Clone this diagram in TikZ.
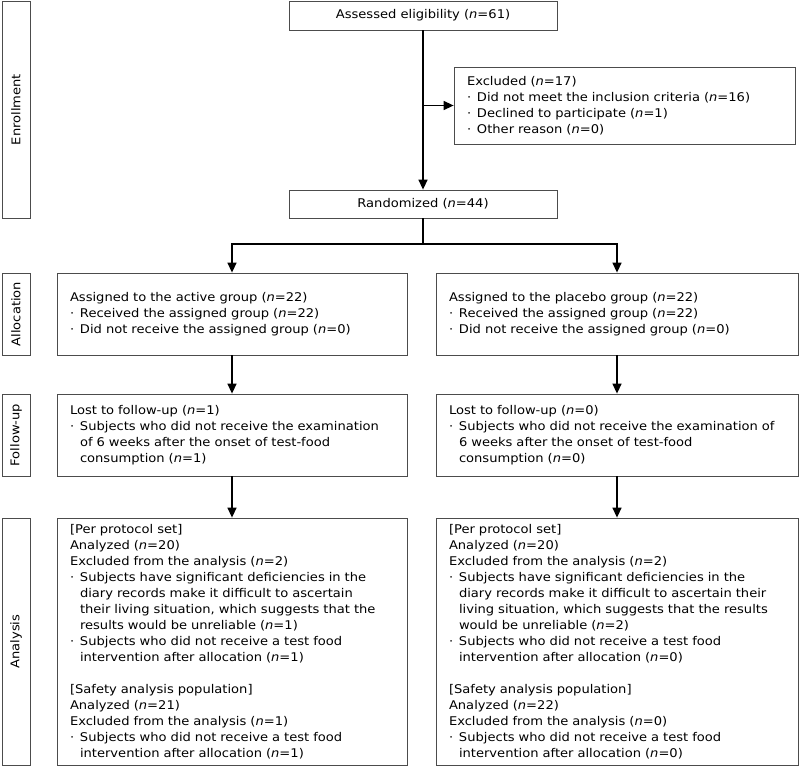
\documentclass[tikz,border=0pt]{standalone}
\usepackage{fontspec}
\setmainfont[FakeStretch=1.09]{DejaVu Sans}
\usepackage{tikz}
\usetikzlibrary{arrows.meta}

% bullet and continuation indent for the list lines
\newcommand{\bul}{\makebox[10pt][l]{\textperiodcentered}}
\newcommand{\cnt}{\hspace*{10pt}}
\newcommand{\nn}{\textit{n}}

\begin{document}
\begin{tikzpicture}[x=1pt, y=-1pt,
    box/.style={draw=black!70, rectangle, line width=0.8pt, inner xsep=13pt, inner ysep=0pt,
                align=left, font=\fontsize{12}{16}\selectfont},
    stage/.style={draw=black!70, rectangle, line width=0.8pt, inner sep=0pt, rotate=90,
                  font=\fontsize{12}{16}\selectfont},
    arr/.style={-{Triangle[length=10pt,width=9pt]}, line width=1.4pt}]
            \useasboundingbox (0,0) rectangle (800,773);

            % Stage labels (left column)
            \node[stage, minimum width=217pt, minimum height=28pt] (enrol) at (16, 109.5) {Enrollment};
            \node[stage, minimum width=82pt, minimum height=28pt] (alloc) at (16, 314) {Allocation};
            \node[stage, minimum width=82pt, minimum height=28pt] (follow) at (16, 435) {Follow-up};
            \node[stage, minimum width=247pt, minimum height=28pt] (analysis) at (16, 641.5) {Analysis};

            % Enrollment
            \node[box, align=center, minimum width=268pt, minimum height=29pt] (assess) at (423, 15.5) {Assessed eligibility (\nn=61)};
            \node[box, text width=315pt, minimum width=341pt, minimum height=77pt] (excl) at (624.5, 105.5)
                {Excluded (\nn=17)\\
                 \bul Did not meet the inclusion criteria (\nn=16)\\
                 \bul Declined to participate (\nn=1)\\
                 \bul Other reason (\nn=0)};
            \node[box, align=center, minimum width=268pt, minimum height=28pt] (rand) at (423, 204) {Randomized (\nn=44)};

            % Allocation
            \node[box, text width=324pt, minimum width=350pt, minimum height=82pt] (allocA) at (232, 314)
                {Assigned to the active group (\nn=22)\\
                 \bul Received the assigned group (\nn=22)\\
                 \bul Did not receive the assigned group (\nn=0)};
            \node[box, text width=336pt, minimum width=362pt, minimum height=82pt] (allocP) at (617, 314)
                {Assigned to the placebo group (\nn=22)\\
                 \bul Received the assigned group (\nn=22)\\
                 \bul Did not receive the assigned group (\nn=0)};

            % Follow-up
            \node[box, text width=324pt, minimum width=350pt, minimum height=82pt] (followA) at (232, 435)
                {Lost to follow-up (\nn=1)\\
                 \bul Subjects who did not receive the examination\\
                 \cnt of 6 weeks after the onset of test-food\\
                 \cnt consumption (\nn=1)};
            \node[box, text width=336pt, minimum width=362pt, minimum height=82pt] (followP) at (617, 435)
                {Lost to follow-up (\nn=0)\\
                 \bul Subjects who did not receive the examination of\\
                 \cnt 6 weeks after the onset of test-food\\
                 \cnt consumption (\nn=0)};

            % Analysis
            \node[box, text width=324pt, minimum width=350pt, minimum height=247pt] (anaA) at (232, 641.5)
                {[Per protocol set]\\
                 Analyzed (\nn=20)\\
                 Excluded from the analysis (\nn=2)\\
                 \bul Subjects have significant deficiencies in the\\
                 \cnt diary records make it difficult to ascertain\\
                 \cnt their living situation, which suggests that the\\
                 \cnt results would be unreliable (\nn=1)\\
                 \bul Subjects who did not receive a test food\\
                 \cnt intervention after allocation (\nn=1)\\[16pt]
                 [Safety analysis population]\\
                 Analyzed (\nn=21)\\
                 Excluded from the analysis (\nn=1)\\
                 \bul Subjects who did not receive a test food\\
                 \cnt intervention after allocation (\nn=1)};
            \node[box, text width=336pt, minimum width=362pt, minimum height=247pt] (anaP) at (617, 641.5)
                {[Per protocol set]\\
                 Analyzed (\nn=20)\\
                 Excluded from the analysis (\nn=2)\\
                 \bul Subjects have significant deficiencies in the\\
                 \cnt diary records make it difficult to ascertain their\\
                 \cnt living situation, which suggests that the results\\
                 \cnt would be unreliable (\nn=2)\\
                 \bul Subjects who did not receive a test food\\
                 \cnt intervention after allocation (\nn=0)\\[16pt]
                 [Safety analysis population]\\
                 Analyzed (\nn=22)\\
                 Excluded from the analysis (\nn=0)\\
                 \bul Subjects who did not receive a test food\\
                 \cnt intervention after allocation (\nn=0)};

            % Arrows
            \coordinate (split) at (assess.south |- excl.west);
            \coordinate (branch) at (423, 244);
            \draw[arr] (assess.south) -- (rand.north);
            \draw[arr] (split) -- (excl.west);
            \draw[line width=1.4pt] (rand.south) -- (branch);
            \draw[arr] (branch) -| (allocA.north);
            \draw[arr] (branch) -| (allocP.north);
            \draw[arr] (allocA.south) -- (followA.north);
            \draw[arr] (allocP.south) -- (followP.north);
            \draw[arr] (followA.south) -- (anaA.north);
            \draw[arr] (followP.south) -- (anaP.north);
        \end{tikzpicture}
\end{document}
